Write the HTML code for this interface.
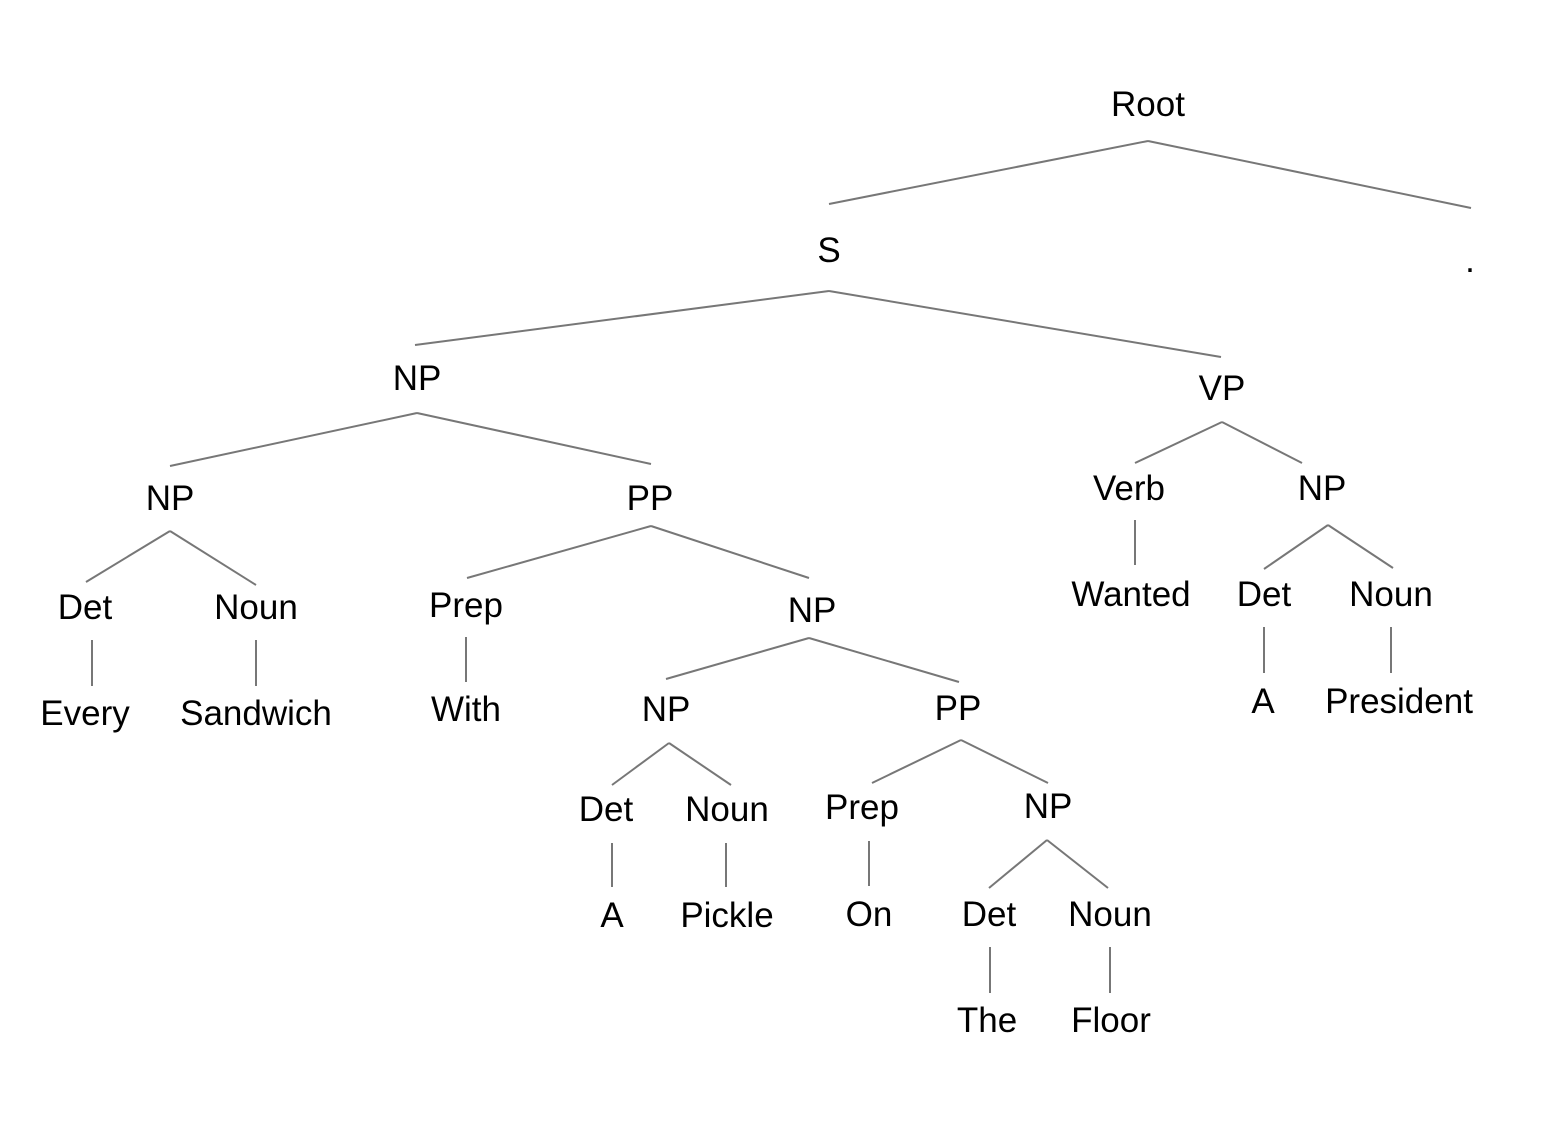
<!DOCTYPE html>
<html><head><meta charset="utf-8"><style>
html,body{margin:0;padding:0;background:#fff;}
svg{display:block;}
text{font-family:"Liberation Sans",Arial,sans-serif;font-size:35px;fill:#000;text-anchor:middle;}
line{stroke:#777;stroke-width:2;}
</style></head><body>
<svg width="1542" height="1130" viewBox="0 0 1542 1130">
<g>
<line x1="1148" y1="141" x2="829" y2="204"/><line x1="1148" y1="141" x2="1471" y2="208"/>
<line x1="829" y1="291" x2="415" y2="345"/><line x1="829" y1="291" x2="1221" y2="357"/>
<line x1="417" y1="413" x2="170" y2="466"/><line x1="417" y1="413" x2="651" y2="464"/>
<line x1="1222" y1="422" x2="1135" y2="463"/><line x1="1222" y1="422" x2="1302" y2="463"/>
<line x1="170" y1="531" x2="86" y2="582"/><line x1="170" y1="531" x2="256" y2="585"/>
<line x1="651" y1="526" x2="467" y2="578"/><line x1="651" y1="526" x2="809" y2="578"/>
<line x1="1135" y1="520" x2="1135" y2="565"/>
<line x1="1328" y1="525" x2="1264" y2="569"/><line x1="1328" y1="525" x2="1393" y2="568"/>
<line x1="92" y1="640" x2="92" y2="686"/><line x1="256" y1="640" x2="256" y2="686"/>
<line x1="466" y1="637" x2="466" y2="682"/>
<line x1="809" y1="638" x2="666" y2="679"/><line x1="809" y1="638" x2="959" y2="682"/>
<line x1="1264" y1="627" x2="1264" y2="673"/><line x1="1391" y1="627" x2="1391" y2="673"/>
<line x1="669" y1="743" x2="612" y2="785"/><line x1="669" y1="743" x2="731" y2="785"/>
<line x1="961" y1="740" x2="872" y2="783"/><line x1="961" y1="740" x2="1048" y2="783"/>
<line x1="612" y1="843" x2="612" y2="887"/><line x1="726" y1="843" x2="726" y2="887"/>
<line x1="869" y1="841" x2="869" y2="886"/>
<line x1="1047" y1="840" x2="989" y2="888"/><line x1="1047" y1="840" x2="1108" y2="888"/>
<line x1="990" y1="947" x2="990" y2="993"/><line x1="1110" y1="947" x2="1110" y2="993"/>
</g>
<g>
<text x="1148" y="116">Root</text>
<text x="829" y="262">S</text>
<text x="1470" y="272">.</text>
<text x="417" y="390">NP</text>
<text x="1222" y="400">VP</text>
<text x="170" y="510">NP</text>
<text x="650" y="510">PP</text>
<text x="1129" y="500">Verb</text>
<text x="1322" y="500">NP</text>
<text x="85" y="619">Det</text>
<text x="256" y="619">Noun</text>
<text x="466" y="617">Prep</text>
<text x="812" y="622">NP</text>
<text x="1131" y="606">Wanted</text>
<text x="1264" y="606">Det</text>
<text x="1391" y="606">Noun</text>
<text x="85" y="725">Every</text>
<text x="256" y="725">Sandwich</text>
<text x="466" y="721">With</text>
<text x="666" y="721">NP</text>
<text x="958" y="720">PP</text>
<text x="1263" y="713">A</text>
<text x="1399" y="713">President</text>
<text x="606" y="821">Det</text>
<text x="727" y="821">Noun</text>
<text x="862" y="819">Prep</text>
<text x="1048" y="818">NP</text>
<text x="612" y="927">A</text>
<text x="727" y="927">Pickle</text>
<text x="869" y="926">On</text>
<text x="989" y="926">Det</text>
<text x="1110" y="926">Noun</text>
<text x="987" y="1032">The</text>
<text x="1111" y="1032">Floor</text>
</g>
</svg>
</body></html>
